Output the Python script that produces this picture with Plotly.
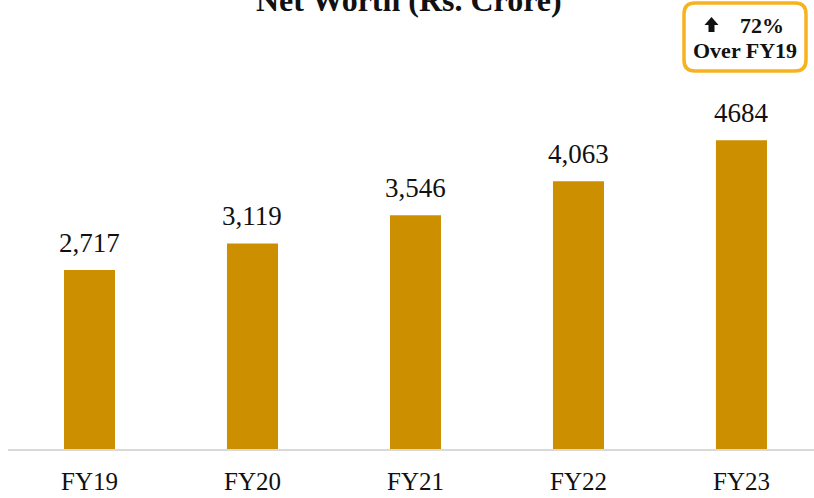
import plotly.graph_objects as go

categories = ["FY19", "FY20", "FY21", "FY22", "FY23"]
net_worth = [2717, 3119, 3546, 4063, 4684]
value_labels = ["2,717", "3,119", "3,546", "4,063", "4684"]

title_text = "Net Worth (Rs. Crore)"
callout_pct = "72%"
callout_line2 = "Over FY19"

BAR_COLOR = "#CC8F00"
BOX_COLOR = "#F7B21E"
FONT = "Liberation Serif"

W, H = 814, 498
ML, MT, MB = 8, 0, 49
PW, PH = W - ML, H - MT - MB


def px(xp):
    return (xp - ML) / PW


def py(yp):
    return 1 - (yp - MT) / PH


fig = go.Figure()
fig.add_trace(go.Bar(
    x=categories, y=net_worth,
    marker=dict(color=BAR_COLOR, line=dict(width=0)),
    width=0.313,
    hoverinfo="skip",
))

for c, v, lab in zip(categories, net_worth, value_labels):
    fig.add_annotation(
        x=c, y=v, xref="x", yref="y", text=lab, showarrow=False,
        yanchor="bottom", yshift=10,
        font=dict(family=FONT, size=27, color="#111111"),
    )

fig.add_annotation(
    x=0.5, y=1, xref="paper", yref="paper", text="<b>" + title_text + "</b>",
    showarrow=False, xanchor="center", yanchor="bottom", yshift=-20, xshift=-2,
    font=dict(family=FONT, size=32, color="#111111"),
)

# rounded callout box
x0, x1 = px(684), px(806)
y0, y1 = py(71), py(3)
rx, ry = 11 / PW, 11 / PH
path = (
    f"M {x0+rx},{y1} L {x1-rx},{y1} Q {x1},{y1} {x1},{y1-ry} "
    f"L {x1},{y0+ry} Q {x1},{y0} {x1-rx},{y0} "
    f"L {x0+rx},{y0} Q {x0},{y0} {x0},{y0+ry} "
    f"L {x0},{y1-ry} Q {x0},{y1} {x0+rx},{y1} Z"
)
fig.add_shape(type="path", path=path, xref="paper", yref="paper",
              line=dict(color=BOX_COLOR, width=3.5), fillcolor="white", layer="above")

# up arrow icon
arrow = (
    f"M {px(711.5)},{py(17)} L {px(718.5)},{py(25)} L {px(714.5)},{py(25)} "
    f"L {px(714.5)},{py(32)} L {px(708.5)},{py(32)} L {px(708.5)},{py(25)} "
    f"L {px(704.5)},{py(25)} Z"
)
fig.add_shape(type="path", path=arrow, xref="paper", yref="paper",
              line=dict(width=0), fillcolor="#111111", layer="above")

fig.add_annotation(
    x=px(762), y=py(25), xref="paper", yref="paper",
    text="<b>" + callout_pct + "</b>", showarrow=False,
    xanchor="center", yanchor="middle",
    font=dict(family=FONT, size=22, color="#111111"),
)
fig.add_annotation(
    x=px(745), y=py(50), xref="paper", yref="paper",
    text="<b>" + callout_line2 + "</b>", showarrow=False,
    xanchor="center", yanchor="middle",
    font=dict(family=FONT, size=22, color="#111111"),
)

fig.update_layout(
    width=W, height=H,
    margin=dict(l=ML, r=0, t=MT, b=MB),
    paper_bgcolor="white", plot_bgcolor="white",
    showlegend=False,
    xaxis=dict(
        range=[-0.5, 4.445], showgrid=False, zeroline=False,
        showline=True, linecolor="#D9D9D9", linewidth=2,
        ticks="", ticklabelstandoff=9, automargin=False,
        tickfont=dict(family=FONT, size=25, color="#111111"),
    ),
    yaxis=dict(range=[0, 6813], visible=False, showgrid=False,
               zeroline=False, automargin=False),
)

fig.write_html("out.html", config={"displayModeBar": False},
               post_script="document.body.style.margin='0';")
